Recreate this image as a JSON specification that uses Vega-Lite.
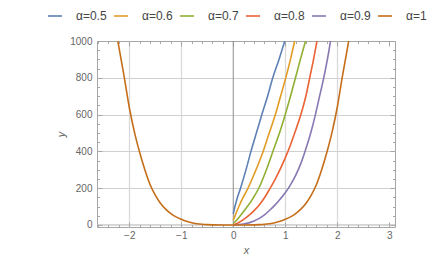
{
  "$schema": "https://vega.github.io/schema/vega-lite/v6.json",
  "width": 298,
  "height": 186,
  "autosize": {"type": "none"},
  "padding": {"left": 97, "top": 41, "right": 49, "bottom": 30},
  "background": "white",
  "config": {
    "view": {"stroke": "#a6a6a6", "strokeWidth": 1},
    "font": "Liberation Sans",
    "axis": {
      "labelFont": "Liberation Sans",
      "labelFontSize": 10,
      "labelColor": "#666666",
      "domain": false,
      "tickColor": "#a6a6a6",
      "tickWidth": 1,
      "titleFont": "Liberation Sans",
      "titleFontStyle": "italic",
      "titleFontWeight": "normal",
      "titleColor": "#666666",
      "titleFontSize": 11
    }
  },
  "resolve": {"axis": {"x": "independent", "y": "independent"}},
  "layer": [
    {
      "data": {"values": [{"x0": 0}]},
      "mark": {"type": "rule", "color": "#8c8c8c", "strokeWidth": 1},
      "encoding": {
        "x": {
          "field": "x0", "type": "quantitative",
          "scale": {"domain": [-2.62, 3.11], "nice": false, "zero": false},
          "axis": {
            "orient": "top", "title": null, "labels": false, "grid": false,
            "values": [-2.6,-2.4,-2.2,-2,-1.8,-1.6,-1.4,-1.2,-1,-0.8,-0.6,-0.4,-0.2,0,0.2,0.4,0.6,0.8,1,1.2,1.4,1.6,1.8,2,2.2,2.4,2.6,2.8,3],
            "tickSize": {"condition": {"test": "datum.value % 1 === 0", "value": -5}, "value": -2.5}
          }
        }
      }
    },
    {
      "data": {"values": [{"y0": 0}]},
      "mark": {"type": "rule", "color": "#b0b0b0", "strokeWidth": 1},
      "encoding": {
        "y": {
          "field": "y0", "type": "quantitative",
          "scale": {"domain": [-11, 1000], "nice": false, "zero": false},
          "axis": {
            "orient": "right", "title": null, "labels": false, "grid": false,
            "values": [0,50,100,150,200,250,300,350,400,450,500,550,600,650,700,750,800,850,900,950,1000],
            "tickSize": {"condition": {"test": "datum.value % 200 === 0", "value": -5}, "value": -2.5}
          }
        }
      }
    },
    {
      "data": {"values": [
        {"a": "α=0.5", "x": 0, "y": 60},
        {"a": "α=0.5", "x": 0.03, "y": 97},
        {"a": "α=0.5", "x": 0.07, "y": 140},
        {"a": "α=0.5", "x": 0.14, "y": 200},
        {"a": "α=0.5", "x": 0.25, "y": 305},
        {"a": "α=0.5", "x": 0.34, "y": 400},
        {"a": "α=0.5", "x": 0.45, "y": 505},
        {"a": "α=0.5", "x": 0.55, "y": 600},
        {"a": "α=0.5", "x": 0.66, "y": 700},
        {"a": "α=0.5", "x": 0.76, "y": 800},
        {"a": "α=0.5", "x": 0.88, "y": 900},
        {"a": "α=0.5", "x": 0.99, "y": 1000},
        {"a": "α=0.6", "x": 0, "y": 25},
        {"a": "α=0.6", "x": 0.04, "y": 55},
        {"a": "α=0.6", "x": 0.1, "y": 95},
        {"a": "α=0.6", "x": 0.18, "y": 145},
        {"a": "α=0.6", "x": 0.25, "y": 181},
        {"a": "α=0.6", "x": 0.4, "y": 275},
        {"a": "α=0.6", "x": 0.5, "y": 344},
        {"a": "α=0.6", "x": 0.55, "y": 380},
        {"a": "α=0.6", "x": 0.68, "y": 490},
        {"a": "α=0.6", "x": 0.81, "y": 600},
        {"a": "α=0.6", "x": 0.91, "y": 700},
        {"a": "α=0.6", "x": 1.01, "y": 800},
        {"a": "α=0.6", "x": 1.1, "y": 900},
        {"a": "α=0.6", "x": 1.18, "y": 1000},
        {"a": "α=0.7", "x": 0, "y": 8},
        {"a": "α=0.7", "x": 0.05, "y": 22},
        {"a": "α=0.7", "x": 0.12, "y": 45},
        {"a": "α=0.7", "x": 0.25, "y": 92},
        {"a": "α=0.7", "x": 0.38, "y": 145},
        {"a": "α=0.7", "x": 0.5, "y": 205},
        {"a": "α=0.7", "x": 0.63, "y": 295},
        {"a": "α=0.7", "x": 0.76, "y": 398},
        {"a": "α=0.7", "x": 0.9, "y": 510},
        {"a": "α=0.7", "x": 1.02, "y": 620},
        {"a": "α=0.7", "x": 1.12, "y": 720},
        {"a": "α=0.7", "x": 1.22, "y": 825},
        {"a": "α=0.7", "x": 1.31, "y": 920},
        {"a": "α=0.7", "x": 1.39, "y": 1000},
        {"a": "α=0.8", "x": 0, "y": 0},
        {"a": "α=0.8", "x": 0.1, "y": 12},
        {"a": "α=0.8", "x": 0.2, "y": 30},
        {"a": "α=0.8", "x": 0.3, "y": 52},
        {"a": "α=0.8", "x": 0.4, "y": 78},
        {"a": "α=0.8", "x": 0.5, "y": 109},
        {"a": "α=0.8", "x": 0.6, "y": 148},
        {"a": "α=0.8", "x": 0.7, "y": 195},
        {"a": "α=0.8", "x": 0.8, "y": 245},
        {"a": "α=0.8", "x": 0.9, "y": 302},
        {"a": "α=0.8", "x": 1.0, "y": 365},
        {"a": "α=0.8", "x": 1.1, "y": 435},
        {"a": "α=0.8", "x": 1.2, "y": 515},
        {"a": "α=0.8", "x": 1.3, "y": 600},
        {"a": "α=0.8", "x": 1.4, "y": 705},
        {"a": "α=0.8", "x": 1.47, "y": 800},
        {"a": "α=0.8", "x": 1.54, "y": 895},
        {"a": "α=0.8", "x": 1.61, "y": 1000},
        {"a": "α=0.9", "x": 0, "y": 0},
        {"a": "α=0.9", "x": 0.2, "y": 5},
        {"a": "α=0.9", "x": 0.4, "y": 22},
        {"a": "α=0.9", "x": 0.5, "y": 36},
        {"a": "α=0.9", "x": 0.6, "y": 55},
        {"a": "α=0.9", "x": 0.7, "y": 80},
        {"a": "α=0.9", "x": 0.8, "y": 108},
        {"a": "α=0.9", "x": 0.9, "y": 140},
        {"a": "α=0.9", "x": 1.0, "y": 175},
        {"a": "α=0.9", "x": 1.1, "y": 218},
        {"a": "α=0.9", "x": 1.2, "y": 270},
        {"a": "α=0.9", "x": 1.3, "y": 335},
        {"a": "α=0.9", "x": 1.38, "y": 400},
        {"a": "α=0.9", "x": 1.48, "y": 490},
        {"a": "α=0.9", "x": 1.58, "y": 600},
        {"a": "α=0.9", "x": 1.66, "y": 700},
        {"a": "α=0.9", "x": 1.74, "y": 800},
        {"a": "α=0.9", "x": 1.81, "y": 900},
        {"a": "α=0.9", "x": 1.87, "y": 1000},
        {"a": "α=1", "x": -2.22, "y": 1000},
        {"a": "α=1", "x": -2.1, "y": 810},
        {"a": "α=1", "x": -2.0, "y": 640},
        {"a": "α=1", "x": -1.9, "y": 505},
        {"a": "α=1", "x": -1.8, "y": 395},
        {"a": "α=1", "x": -1.7, "y": 300},
        {"a": "α=1", "x": -1.6, "y": 220},
        {"a": "α=1", "x": -1.5, "y": 162},
        {"a": "α=1", "x": -1.4, "y": 118},
        {"a": "α=1", "x": -1.3, "y": 86},
        {"a": "α=1", "x": -1.2, "y": 62},
        {"a": "α=1", "x": -1.1, "y": 44},
        {"a": "α=1", "x": -1.0, "y": 31},
        {"a": "α=1", "x": -0.9, "y": 20},
        {"a": "α=1", "x": -0.8, "y": 12},
        {"a": "α=1", "x": -0.7, "y": 7},
        {"a": "α=1", "x": -0.6, "y": 3.6},
        {"a": "α=1", "x": -0.5, "y": 1.8},
        {"a": "α=1", "x": -0.4, "y": 0.7},
        {"a": "α=1", "x": -0.2, "y": 0},
        {"a": "α=1", "x": 0, "y": 0},
        {"a": "α=1", "x": 0.2, "y": 0},
        {"a": "α=1", "x": 0.4, "y": 0.7},
        {"a": "α=1", "x": 0.5, "y": 1.8},
        {"a": "α=1", "x": 0.6, "y": 3.6},
        {"a": "α=1", "x": 0.7, "y": 7},
        {"a": "α=1", "x": 0.8, "y": 12},
        {"a": "α=1", "x": 0.9, "y": 20},
        {"a": "α=1", "x": 1.0, "y": 31},
        {"a": "α=1", "x": 1.1, "y": 44},
        {"a": "α=1", "x": 1.2, "y": 62},
        {"a": "α=1", "x": 1.3, "y": 86},
        {"a": "α=1", "x": 1.4, "y": 118},
        {"a": "α=1", "x": 1.5, "y": 162},
        {"a": "α=1", "x": 1.6, "y": 220},
        {"a": "α=1", "x": 1.7, "y": 300},
        {"a": "α=1", "x": 1.8, "y": 395},
        {"a": "α=1", "x": 1.9, "y": 505},
        {"a": "α=1", "x": 2.0, "y": 640},
        {"a": "α=1", "x": 2.1, "y": 810},
        {"a": "α=1", "x": 2.22, "y": 1000}
      ]},
      "mark": {"type": "line", "clip": true, "strokeWidth": 1.6, "interpolate": "monotone"},
      "encoding": {
        "x": {
          "field": "x", "type": "quantitative",
          "scale": {"domain": [-2.62, 3.11], "nice": false, "zero": false},
          "axis": {
            "orient": "bottom", "title": "x",
            "values": [-2.6,-2.4,-2.2,-2,-1.8,-1.6,-1.4,-1.2,-1,-0.8,-0.6,-0.4,-0.2,0,0.2,0.4,0.6,0.8,1,1.2,1.4,1.6,1.8,2,2.2,2.4,2.6,2.8,3],
            "labelExpr": "datum.value % 1 === 0 ? format(datum.value, 'd') : ''",
            "labelFlush": false, "labelOverlap": false, "labelPadding": 8,
            "titlePadding": 2,
            "tickSize": {"condition": {"test": "datum.value % 1 === 0", "value": -5}, "value": -2.5},
            "grid": true,
            "gridColor": "#d9d9d9",
            "gridWidth": 1.3,
            "gridOpacity": {"condition": {"test": "datum.value % 1 !== 0 || datum.value === 0 || datum.value === 3", "value": 0}, "value": 1}
          }
        },
        "y": {
          "field": "y", "type": "quantitative",
          "scale": {"domain": [-11, 1000], "nice": false, "zero": false},
          "axis": {
            "orient": "left", "title": "y",
            "values": [0,50,100,150,200,250,300,350,400,450,500,550,600,650,700,750,800,850,900,950,1000],
            "labelExpr": "datum.value % 200 === 0 ? format(datum.value, 'd') : ''",
            "labelOverlap": false, "labelFlush": false, "labelPadding": 10,
            "titlePadding": 3,
            "tickSize": {"condition": {"test": "datum.value % 200 === 0", "value": -5}, "value": -2.5},
            "grid": true,
            "gridColor": "#d0d0d0",
            "gridWidth": 1,
            "gridOpacity": {"condition": {"test": "datum.value % 200 !== 0 || datum.value === 0 || datum.value === 1000", "value": 0}, "value": 1}
          }
        },
        "color": {
          "field": "a", "type": "nominal",
          "scale": {
            "domain": ["α=0.5", "α=0.6", "α=0.7", "α=0.8", "α=0.9", "α=1"],
            "range": ["#5E81B5", "#E19C24", "#8FB032", "#EB6235", "#8778B3", "#C56E1A"]
          },
          "legend": {
            "orient": "none", "legendX": -50, "legendY": -33,
            "direction": "horizontal", "title": null, "padding": 0,
            "symbolType": "stroke", "symbolSize": 196, "symbolStrokeWidth": 1.6,
            "labelFont": "Liberation Sans", "labelFontSize": 12, "labelColor": "#444444",
            "labelOffset": 13, "columnPadding": 3
          }
        }
      }
    }
  ]
}
